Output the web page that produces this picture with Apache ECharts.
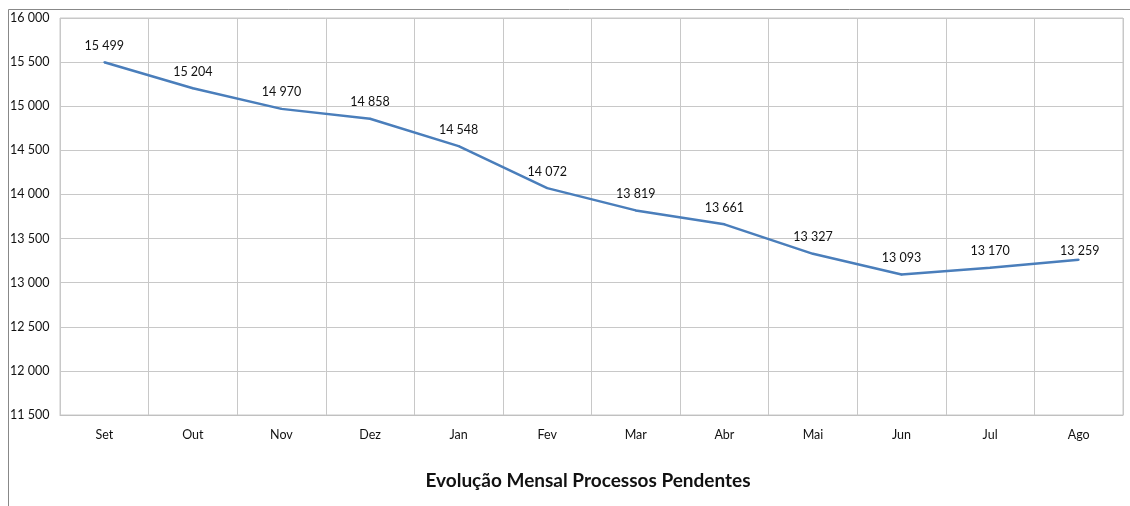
<!DOCTYPE html>
<html><head><meta charset="utf-8">
<script src="https://cdn.jsdelivr.net/npm/echarts@6/dist/echarts.min.js"></script>
<style>html,body{margin:0;padding:0;background:#fff}#c{width:1130px;height:506px}</style>
</head><body><div id="c"></div>
<script>
const categories = ['Set','Out','Nov','Dez','Jan','Fev','Mar','Abr','Mai','Jun','Jul','Ago'];
const pendentes = [15499,15204,14970,14858,14548,14072,13819,13661,13327,13093,13170,13259];
const titleText = 'Evolução Mensal Processos Pendentes';

const fmt = v => String(v).replace(/\B(?=(\d{3})+(?!\d))/g, ' ');
const FONT = 'Lato, "Open Sans", sans-serif';
const seriesData = pendentes.map((v, i) =>
  i === pendentes.length - 1 ? {value: v, label: {offset: [1, 8]}} : v);
const chart = echarts.init(document.getElementById('c'), null, {renderer:'canvas'});
chart.setOption({
  animation:false,
  backgroundColor:'#fff',
  title:{text:titleText,left:583,top:466,textAlign:'center',
    textStyle:{fontFamily:FONT,fontSize:19,fontWeight:'bold',color:'#111'}},
  grid:{left:60,right:7,top:18,bottom:91,show:true,borderColor:'#c8c8c8',borderWidth:1},
  xAxis:{type:'category',data:categories,boundaryGap:true,
    axisLine:{show:true,lineStyle:{color:'#c0c0c0'}},axisTick:{show:false},
    splitLine:{show:true,interval:0,lineStyle:{color:'#c8c8c8'}},
    axisLabel:{margin:13,interval:0,fontFamily:FONT,fontSize:12.5,color:'#111'}},
  yAxis:{type:'value',min:11500,max:16000,interval:500,
    axisLine:{show:false},axisTick:{show:false},
    splitLine:{lineStyle:{color:'#c8c8c8'}},
    axisLabel:{align:'left',margin:50,fontFamily:FONT,fontSize:12.5,color:'#111',formatter:fmt}},
  graphic:[
    {type:'line',shape:{x1:8.5,y1:9.5,x2:1130,y2:9.5},style:{stroke:'#888',lineWidth:1}},
    {type:'line',shape:{x1:8.5,y1:9.5,x2:8.5,y2:506},style:{stroke:'#888',lineWidth:1}}
  ],
  series:[{type:'line',data:seriesData,symbol:'circle',symbolSize:2,showSymbol:true,
    itemStyle:{color:'#4a7ebb'},
    lineStyle:{color:'#4a7ebb',width:2.5},
    label:{show:true,position:'top',distance:9,fontFamily:FONT,fontSize:12.5,color:'#111',opacity:1,
      formatter:p=>fmt(p.value)}}]
});
</script></body></html>
